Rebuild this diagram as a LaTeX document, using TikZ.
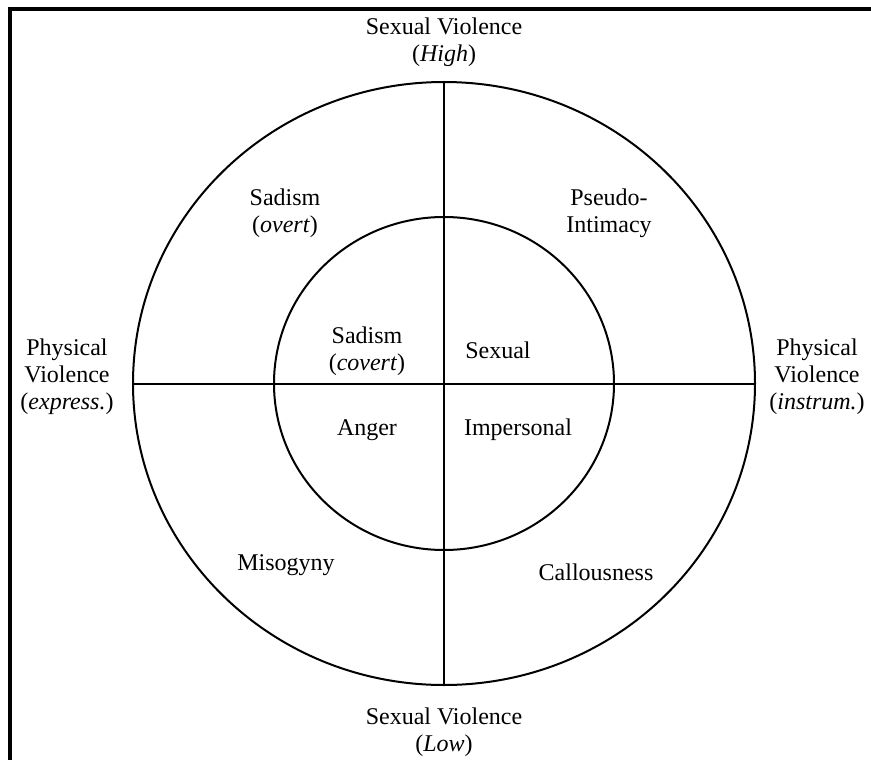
\documentclass[tikz,border=0pt]{standalone}
\usepackage{fontspec}
\setmainfont{Liberation Serif}
\usetikzlibrary{shapes.geometric}
\begin{document}
\begin{tikzpicture}[x=1pt,y=-1pt,
  ring/.style={ellipse, draw, line width=2pt, inner sep=0pt},
  axis/.style={line width=2pt},
  frameline/.style={line width=4pt},
  lbl/.style={align=center, inner sep=0pt, font=\fontsize{24}{27}\selectfont}]
  \useasboundingbox (0,0) rectangle (871,760);
  % frame: top and left edges only
  \coordinate (fbl) at (10,762);
  \coordinate (ftr) at (873,9);
  \draw[frameline] (fbl) |- (ftr);
  % rings
  \node[ring, minimum width=622pt, minimum height=603pt] (outer) at (444,383.5) {};
  \node[ring, minimum width=340pt, minimum height=333pt] (inner) at (444,383.5) {};
  % axes
  \draw[axis] (outer.north) -- (outer.south);
  \draw[axis] (outer.west) -- (outer.east);
  % axis labels
  \node[lbl] (top) at (444,42) {Sexual Violence\\(\textit{High})};
  \node[lbl] (bot) at (444,732) {Sexual Violence\\(\textit{Low})};
  \node[lbl] (lft) at (67,377) {Physical\\Violence\\(\textit{express.})};
  \node[lbl] (rgt) at (817,377) {Physical\\Violence\\(\textit{instrum.})};
  % outer ring labels
  \node[lbl] (sovert) at (285,213) {Sadism\\(\textit{overt})};
  \node[lbl] (pseudo) at (609,213) {Pseudo-\\Intimacy};
  \node[lbl] (misog) at (286,565) {Misogyny};
  \node[lbl] (callous) at (596,572) {Callousness};
  % inner ring labels
  \node[lbl] (scovert) at (367,351) {Sadism\\(\textit{covert})};
  \node[lbl] (sexual) at (498,350) {Sexual};
  \node[lbl] (anger) at (367,430) {Anger};
  \node[lbl] (imperson) at (518,430) {Impersonal};
\end{tikzpicture}
\end{document}
